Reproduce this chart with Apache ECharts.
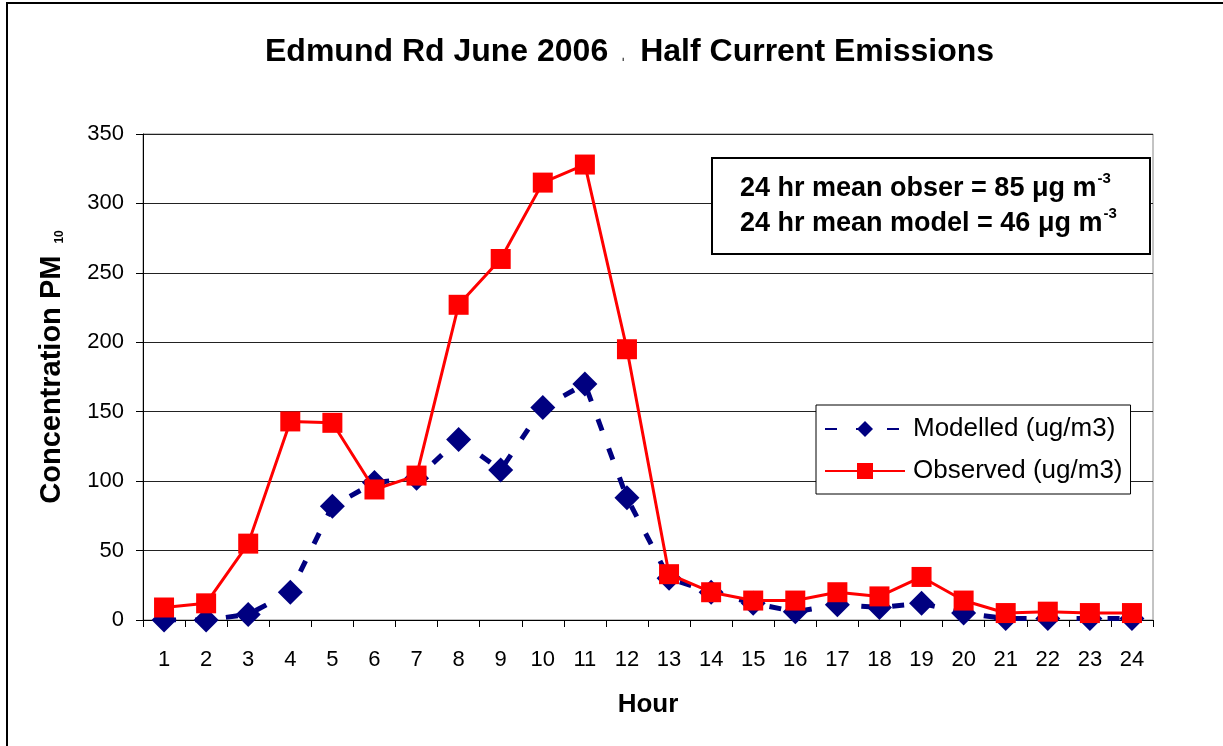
<!DOCTYPE html>
<html>
<head>
<meta charset="utf-8">
<title>Edmund Rd June 2006</title>
<script src="https://cdn.jsdelivr.net/npm/echarts@6/dist/echarts.min.js"></script>
<style>
  html, body { margin: 0; padding: 0; background: #fff; }
  #chart { width: 1223px; height: 746px; }
</style>
</head>
<body>
<div id="chart"></div>
<script>
// hours on the x axis
var hours = ['1', '2', '3', '4', '5', '6', '7', '8', '9', '10', '11', '12',
  '13', '14', '15', '16', '17', '18', '19', '20', '21', '22', '23', '24'];
// modelled PM10 (ug/m3)
var modelled = [0, 0, 4, 20, 82, 99, 102, 130, 108, 153, 170, 88,
  30, 20, 12, 6, 11, 9, 12, 5, 1, 1, 1, 1];
// observed PM10 (ug/m3)
var observed = [9, 12, 55, 143, 142, 94, 104, 227, 260, 315, 328, 195,
  33, 20, 14, 14, 20, 17, 31, 14, 5, 6, 5, 5];

var chart = echarts.init(document.getElementById('chart'));

var option = {
  animation: false,
  backgroundColor: '#fff',
  textStyle: { fontFamily: 'Arial, "Liberation Sans", sans-serif', color: '#000' },
  title: {
    text: 'Edmund Rd June 2006{t|\u02CC}Half Current Emissions',
    left: 260,
    top: 31,
    textStyle: {
      fontSize: 32,
      fontWeight: 'bold',
      color: '#000',
      rich: { t: { fontSize: 18, color: '#444', padding: [0, 14, 0, 12] } }
    }
  },
  legend: {
    orient: 'vertical',
    left: 816,
    top: 405,
    itemWidth: 80,
    itemHeight: 20,
    itemGap: 16,
    padding: [11, 8, 10, 8],
    backgroundColor: '#fff',
    borderColor: '#000',
    borderWidth: 1,
    borderRadius: 0,
    textStyle: { fontSize: 26, color: '#000', padding: [0, 0, 0, 3] },
    data: ['Modelled (ug/m3)', 'Observed (ug/m3)']
  },
  grid: { left: 143, right: 70, top: 134, bottom: 126, show: true, borderColor: '#888', borderWidth: 1 },
  xAxis: {
    type: 'category',
    data: hours,
    boundaryGap: true,
    name: 'Hour',
    nameLocation: 'middle',
    nameGap: 72,
    nameTextStyle: { fontSize: 26, fontWeight: 'bold', color: '#000' },
    axisLine: { lineStyle: { color: '#000', width: 1 } },
    axisTick: { show: true, alignWithLabel: false, length: 7, lineStyle: { color: '#000' } },
    axisLabel: { fontSize: 22, color: '#000', margin: 29 },
    splitLine: { show: false }
  },
  yAxis: {
    type: 'value',
    min: 0,
    max: 350,
    interval: 50,
    name: '{m|Concentration PM}{s|10}',
    nameLocation: 'middle',
    nameGap: 77,
    nameRotate: 90,
    nameTextStyle: {
      color: '#000',
      rich: {
        m: { fontSize: 29, fontWeight: 'bold', color: '#000', padding: [0, 0, 0, 20] },
        s: { fontSize: 12, fontWeight: 'bold', color: '#000', verticalAlign: 'bottom', padding: [0, 0, 0, 12] }
      }
    },
    axisLine: { show: true, lineStyle: { color: '#000', width: 1 } },
    axisTick: { show: true, inside: false, length: 7, lineStyle: { color: '#000' } },
    axisLabel: { fontSize: 22, color: '#000', margin: 19 },
    splitLine: { show: true, lineStyle: { color: '#222', width: 1 } }
  },
  graphic: [
    {
      type: 'rect',
      silent: true,
      z: -10,
      shape: { x: 7, y: 3, width: 1240, height: 760 },
      style: { fill: 'none', stroke: '#000', lineWidth: 2 }
    },
    {
      type: 'rect',
      silent: true,
      z: 10,
      shape: { x: 712, y: 158, width: 438, height: 96 },
      style: { fill: '#fff', stroke: '#000', lineWidth: 2 }
    },
    {
      type: 'text',
      silent: true,
      z: 11,
      left: 740,
      top: 171,
      style: {
        text: '{b|24 hr mean obser = 85 \u03BCg m}{p|-3}\n{b|24 hr mean model = 46 \u03BCg m}{p|-3}',
        fill: '#000',
        rich: {
          b: { fontSize: 27, fontWeight: 'bold', fill: '#000', lineHeight: 35 },
          p: { fontSize: 15, fontWeight: 'bold', fill: '#000', verticalAlign: 'top', lineHeight: 35, padding: [0, 0, 18, 1] }
        }
      }
    }
  ],
  series: [
    {
      name: 'Modelled (ug/m3)',
      type: 'line',
      data: modelled,
      symbol: 'diamond',
      symbolSize: 25,
      showAllSymbol: true,
      itemStyle: { color: '#000080' },
      lineStyle: { color: '#000080', width: 5, type: [12, 19] },
      z: 2
    },
    {
      name: 'Observed (ug/m3)',
      type: 'line',
      data: observed,
      symbol: 'rect',
      symbolSize: 20,
      showAllSymbol: true,
      itemStyle: { color: '#ff0000' },
      lineStyle: { color: '#ff0000', width: 3 },
      z: 3
    }
  ]
};

chart.setOption(option);
</script>
</body>
</html>
